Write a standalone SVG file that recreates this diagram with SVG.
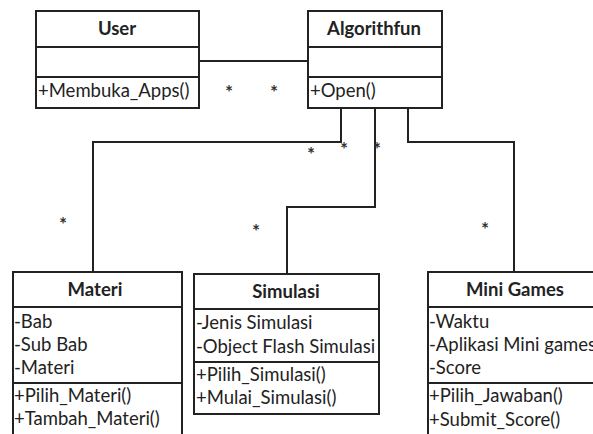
<svg xmlns="http://www.w3.org/2000/svg" width="593" height="434" viewBox="0 0 593 434">
<style>
.box{fill:#fff;stroke:#222;stroke-width:2}
.div{stroke:#222;stroke-width:2}
.conn{fill:none;stroke:#222;stroke-width:2}
text{font-family:Lato,"Open Sans",sans-serif;font-size:18.5px;fill:#222}
.t{font-weight:bold;text-anchor:middle}
.star{font-size:19px;font-weight:bold;text-anchor:middle;fill:#333}
</style>
<rect width="593" height="434" fill="#fff"/>
<g id="connectors">
<line class="conn" x1="199" y1="61" x2="308" y2="61"/>
<polyline class="conn" points="341,108 341,142 93,142 93,272"/>
<polyline class="conn" points="375,108 375,207 287,207 287,274"/>
<polyline class="conn" points="408,108 408,142 514,142 514,272"/>
<text class="star" x="229" y="99">*</text>
<text class="star" x="274" y="99">*</text>
<text class="star" x="311" y="161">*</text>
<text class="star" x="344" y="156">*</text>
<text class="star" x="377" y="156">*</text>
<text class="star" x="63" y="231">*</text>
<text class="star" x="256" y="238">*</text>
<text class="star" x="485" y="236">*</text>
</g>
<g id="user">
<rect class="box" x="36" y="11" width="163" height="97"/>
<line class="div" x1="36" y1="47" x2="199" y2="47"/>
<line class="div" x1="36" y1="77" x2="199" y2="77"/>
<text class="t" x="117" y="35">User</text>
<text x="38" y="97">+Membuka_Apps()</text>
</g>
<g id="algorithfun">
<rect class="box" x="308" y="11" width="134" height="97"/>
<line class="div" x1="308" y1="47" x2="442" y2="47"/>
<line class="div" x1="308" y1="77" x2="442" y2="77"/>
<text class="t" x="374" y="35">Algorithfun</text>
<text x="310" y="97">+Open()</text>
</g>
<g id="materi">
<rect class="box" x="13" y="272" width="169" height="170"/>
<line class="div" x1="13" y1="307" x2="182" y2="307"/>
<line class="div" x1="13" y1="383" x2="182" y2="383"/>
<text class="t" x="95" y="296">Materi</text>
<text x="14" y="328">-Bab</text>
<text x="14" y="351">-Sub Bab</text>
<text x="14" y="374">-Materi</text>
<text x="14" y="402">+Pilih_Materi()</text>
<text x="14" y="425">+Tambah_Materi()</text>
</g>
<g id="simulasi">
<rect class="box" x="194" y="274" width="185" height="140"/>
<line class="div" x1="194" y1="309" x2="379" y2="309"/>
<line class="div" x1="194" y1="362" x2="379" y2="362"/>
<text class="t" x="286" y="298">Simulasi</text>
<text x="196" y="329">-Jenis Simulasi</text>
<text x="196" y="353">-Object Flash Simulasi</text>
<text x="196" y="381">+Pilih_Simulasi()</text>
<text x="196" y="404">+Mulai_Simulasi()</text>
</g>
<g id="minigames">
<rect class="box" x="428" y="272" width="176" height="170"/>
<line class="div" x1="428" y1="307" x2="604" y2="307"/>
<line class="div" x1="428" y1="383" x2="604" y2="383"/>
<text class="t" x="515" y="296">Mini Games</text>
<text x="429" y="328">-Waktu</text>
<text x="429" y="351">-Aplikasi Mini games</text>
<text x="429" y="374">-Score</text>
<text x="429" y="402">+Pilih_Jawaban()</text>
<text x="429" y="426">+Submit_Score()</text>
</g>
</svg>
